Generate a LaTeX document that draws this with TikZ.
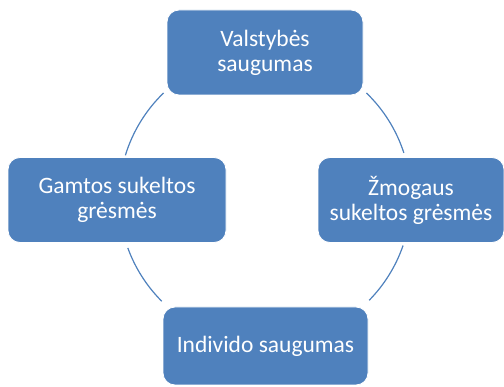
\documentclass[tikz,border=0pt]{standalone}
\usepackage{fontspec}
\setmainfont{Carlito}
\definecolor{boxblue}{RGB}{79,129,189}

\begin{document}
\begin{tikzpicture}[box/.style={draw=white, line width=0.8bp, fill=boxblue, rounded corners=12bp, text=white, align=center, inner sep=0pt, font=\fontsize{23.5bp}{25bp}\selectfont}, ring/.style={draw=boxblue, line width=1.2bp}]
%%
  \useasboundingbox (0bp,0bp) rectangle (504bp,387bp);
  \coordinate (hub) at (265bp,189bp);
  \node (valst) at (265bp,334.5bp) [box, minimum width=196bp, minimum height=85bp] {Valstybės\\saugumas};
  \node (gamta) at (117bp,187bp) [box, minimum width=218bp, minimum height=85bp] {Gamtos sukeltos\\grėsmės};
  \node (zmogus) at (411bp,187bp) [box, minimum width=186bp, minimum height=85bp] {Žmogaus\\sukeltos grėsmės};
  \node (indiv) at (265.5bp,41bp) [box, minimum width=205bp, minimum height=78bp] {Individo saugumas};
  \draw [ring] (hub) ++(134:146bp) arc [start angle=134, end angle=163, radius=146bp];
  \draw [ring] (hub) ++(18:146bp) arc [start angle=18, end angle=46, radius=146bp];
  \draw [ring] (hub) ++(200:146bp) arc [start angle=200, end angle=225, radius=146bp];
  \draw [ring] (hub) ++(-44.5:146bp) arc [start angle=-44.5, end angle=-19, radius=146bp];
%
\end{tikzpicture}
\end{document}
